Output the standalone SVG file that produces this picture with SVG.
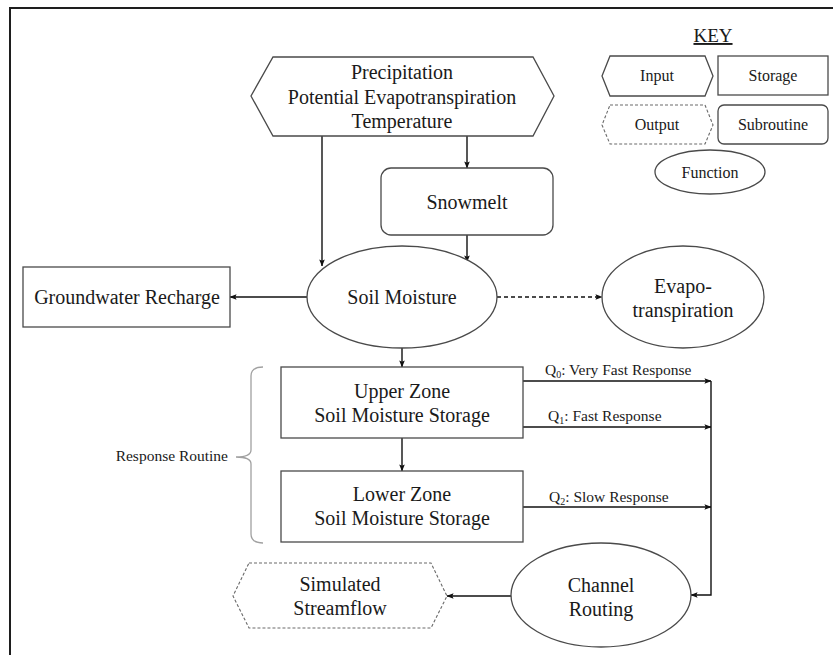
<svg xmlns="http://www.w3.org/2000/svg" width="833" height="655" viewBox="0 0 833 655">
  <defs>
    <marker id="arrow" viewBox="0 0 8 8" refX="7.5" refY="4" markerWidth="7" markerHeight="7" markerUnits="userSpaceOnUse" orient="auto">
      <path d="M0,0.8 L8,4 L0,7.2 L1.5,4 Z" fill="#111"/>
    </marker>
  </defs>
  <style>
    text { font-family: "Liberation Serif", "DejaVu Serif", serif; fill: #1a1a1a; }
    .lbl { font-size: 20px; text-anchor: middle; }
    .key { font-size: 16px; text-anchor: middle; }
    .small { font-size: 15.5px; }
    .shape { fill: #fff; stroke: #4a4a4a; stroke-width: 1.3; }
    .dashed { fill: #fff; stroke: #6a6a6a; stroke-width: 1.1; stroke-dasharray: 3 2; }
    .conn { fill: none; stroke: #111; stroke-width: 1.4; }
    .conn-dash { fill: none; stroke: #111; stroke-width: 1.4; stroke-dasharray: 4 3; }
    .brace { fill: none; stroke: #a0a0a0; stroke-width: 1.3; }
  </style>

  <rect x="0" y="0" width="833" height="655" fill="#fff"/>
  <!-- frame (open to the right and bottom) -->
  <rect x="10" y="8" width="900" height="700" fill="none" stroke="#1e1e1e" stroke-width="2"/>

  <!-- key -->
  <g id="key">
    <text x="713" y="42" style="font-size:19px;text-anchor:middle;text-decoration:underline">KEY</text>
    <g id="key-input">
      <polygon class="shape" points="610,56 705,56 713,76 705,96 610,96 602,76"/>
      <text class="key" x="657" y="81">Input</text>
    </g>
    <g id="key-storage">
      <rect class="shape" x="718" y="56" width="110" height="39"/>
      <text class="key" x="773" y="81">Storage</text>
    </g>
    <g id="key-output">
      <polygon class="dashed" points="610,105 705,105 713,125 705,144 610,144 602,125"/>
      <text class="key" x="657" y="130">Output</text>
    </g>
    <g id="key-subroutine">
      <rect class="shape" x="718" y="105" width="110" height="39" rx="6"/>
      <text class="key" x="773" y="130">Subroutine</text>
    </g>
    <g id="key-function">
      <ellipse class="shape" cx="710" cy="172" rx="55" ry="22"/>
      <text class="key" x="710" y="178">Function</text>
    </g>
  </g>

  <!-- connectors -->
  <g id="connectors">
    <line class="conn" x1="322" y1="136" x2="322" y2="266" marker-end="url(#arrow)"/>
    <line class="conn" x1="467" y1="136" x2="467" y2="168" marker-end="url(#arrow)"/>
    <line class="conn" x1="467" y1="235" x2="467" y2="262" marker-end="url(#arrow)"/>
    <line class="conn" x1="307" y1="297" x2="230" y2="297" marker-end="url(#arrow)"/>
    <line class="conn-dash" x1="497" y1="297" x2="602" y2="297" marker-end="url(#arrow)"/>
    <line class="conn" x1="402" y1="348" x2="402" y2="367" marker-end="url(#arrow)"/>
    <line class="conn" x1="402" y1="438" x2="402" y2="471" marker-end="url(#arrow)"/>
    <line class="conn" x1="523" y1="381" x2="711" y2="381" marker-end="url(#arrow)"/>
    <line class="conn" x1="523" y1="427" x2="711" y2="427" marker-end="url(#arrow)"/>
    <line class="conn" x1="523" y1="507" x2="711" y2="507" marker-end="url(#arrow)"/>
    <polyline class="conn" points="711,381 711,595 691,595" marker-end="url(#arrow)"/>
    <line class="conn" x1="512" y1="596" x2="447" y2="596" marker-end="url(#arrow)"/>
    <text class="small" x="545" y="375">Q<tspan font-size="10" dy="3">0</tspan><tspan dy="-3">: Very Fast Response</tspan></text>
    <text class="small" x="548" y="421">Q<tspan font-size="10" dy="3">1</tspan><tspan dy="-3">: Fast Response</tspan></text>
    <text class="small" x="549" y="502">Q<tspan font-size="10" dy="3">2</tspan><tspan dy="-3">: Slow Response</tspan></text>
  </g>

  <g id="inputs">
    <polygon class="shape" points="273,57 533,57 554,96 533,136 273,136 251,96"/>
    <text class="lbl" x="402" y="79">Precipitation</text>
    <text class="lbl" x="402" y="104">Potential Evapotranspiration</text>
    <text class="lbl" x="402" y="128">Temperature</text>
  </g>

  <g id="snowmelt">
    <rect class="shape" x="381" y="168" width="172" height="67" rx="10"/>
    <text class="lbl" x="467" y="209">Snowmelt</text>
  </g>

  <g id="soil-moisture">
    <ellipse class="shape" cx="402" cy="297" rx="95" ry="51"/>
    <text class="lbl" x="402" y="304">Soil Moisture</text>
  </g>

  <g id="groundwater-recharge">
    <rect class="shape" x="23" y="267" width="207" height="60"/>
    <text class="lbl" x="127" y="304">Groundwater Recharge</text>
  </g>

  <g id="evapotranspiration">
    <ellipse class="shape" cx="683" cy="297" rx="81" ry="51"/>
    <text class="lbl" x="683" y="293">Evapo-</text>
    <text class="lbl" x="683" y="317">transpiration</text>
  </g>

  <g id="response-routine">
    <path class="brace" d="M263,367 Q251,367 251,376 L251,450 Q251,457 236,457 Q251,457 251,464 L251,534 Q251,543 263,543"/>
    <text class="small" x="228" y="461" text-anchor="end">Response Routine</text>
  </g>

  <g id="upper-zone">
    <rect class="shape" x="281" y="367" width="242" height="71"/>
    <text class="lbl" x="402" y="398">Upper Zone</text>
    <text class="lbl" x="402" y="422">Soil Moisture Storage</text>
  </g>

  <g id="lower-zone">
    <rect class="shape" x="281" y="471" width="242" height="71"/>
    <text class="lbl" x="402" y="501">Lower Zone</text>
    <text class="lbl" x="402" y="525">Soil Moisture Storage</text>
  </g>

  <g id="channel-routing">
    <ellipse class="shape" cx="601" cy="595" rx="90" ry="52"/>
    <text class="lbl" x="601" y="592">Channel</text>
    <text class="lbl" x="601" y="616">Routing</text>
  </g>

  <g id="simulated-streamflow">
    <polygon class="dashed" points="249,563 431,563 447,596 431,628 249,628 233,596"/>
    <text class="lbl" x="340" y="591">Simulated</text>
    <text class="lbl" x="340" y="615">Streamflow</text>
  </g>
</svg>
